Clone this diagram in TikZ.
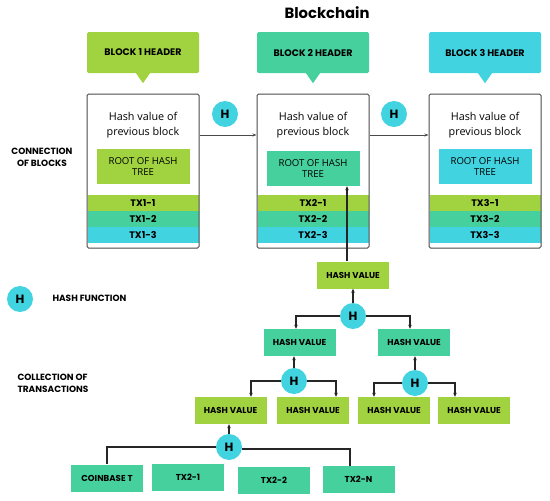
\documentclass[tikz,border=0pt]{standalone}
\usepackage{fontspec}
\setmainfont{Open Sans}
\newfontfamily\pop{Poppins}
\usetikzlibrary{arrows.meta,calc}
\definecolor{lime}{HTML}{A0D33F}
\definecolor{teal}{HTML}{45D09E}
\definecolor{cyanb}{HTML}{42D3E0}
\definecolor{edge}{HTML}{4A4A4A}
\begin{document}
\begin{tikzpicture}[x=1pt,y=-1pt,
  lbl/.style={font=\pop\bfseries\fontsize{9.5}{10}\selectfont, text=black},
  header/.style={lbl, minimum width=112pt, minimum height=41pt, rounded corners=1.5pt, inner sep=0pt},
  block/.style={draw=edge, line width=1pt, rounded corners=1.5pt, minimum width=112pt, minimum height=154pt, inner sep=0pt},
  root/.style={font=\fontsize{9.6}{11.5}\selectfont, align=center, minimum width=93pt, minimum height=35pt, inner sep=0pt},
  prev/.style={font=\fontsize{10.8}{15.5}\selectfont, align=center},
  band/.style={lbl, minimum width=111pt, minimum height=16pt, inner sep=0pt},
  hv/.style={font=\pop\bfseries\fontsize{8.6}{9}\selectfont, minimum width=72pt, minimum height=27pt, inner sep=0pt},
  hfun/.style={circle, fill=cyanb, minimum size=26pt, inner sep=0pt, font=\pop\bfseries\fontsize{12}{12}\selectfont},
  side/.style={font=\pop\bfseries\fontsize{9}{11.5}\selectfont},
  conn/.style={draw=black!85, line width=1.2pt},
  arr/.style={conn, -{Stealth[length=4pt,width=3.5pt]}},
  barr/.style={draw=edge, line width=0.8pt, -{Stealth[length=4pt,width=3pt]}}
]
\useasboundingbox (0,0) rectangle (550,501);

% title
\node[font=\pop\bfseries\fontsize{14.8}{16}\selectfont] (title) at (327,13) {Blockchain};

% headers
\node[header, fill=lime] (h1) at (143,52.5) {BLOCK 1 HEADER};
\node[header, fill=teal] (h2) at (313,52.5) {BLOCK 2 HEADER};
\node[header, fill=cyanb] (h3) at (485,52.5) {BLOCK 3 HEADER};
\fill[lime] ([xshift=-7pt]h1.south) -- ([xshift=7pt]h1.south) -- ([yshift=-10pt]h1.south) -- cycle;
\fill[teal] ([xshift=-7pt]h2.south) -- ([xshift=7pt]h2.south) -- ([yshift=-10pt]h2.south) -- cycle;
\fill[cyanb] ([xshift=-7pt]h3.south) -- ([xshift=7pt]h3.south) -- ([yshift=-10pt]h3.south) -- cycle;

% blocks
\foreach \n/\cx/\ry/\rc in {1/143/166.5/lime, 2/313/168.5/teal, 3/485/166.5/cyanb}{
  \node[band, fill=lime] (t\n a) at (\cx,203) {TX\n-1};
  \node[band, fill=teal] (t\n b) at (\cx,219) {TX\n-2};
  \node[band, fill=cyanb] (t\n c) at (\cx,235) {TX\n-3};
  \node[block] (b\n) at (\cx,171) {};
  \node[prev] (p\n) at (\cx,125) {Hash value of\\previous block};
  \node[root, fill=\rc] (r\n) at (\cx,\ry) {ROOT OF HASH\\TREE};
}

% chain arrows
\draw[barr] ([yshift=36pt]b1.east) -- ([yshift=36pt]b2.west);
\draw[barr] ([yshift=36pt]b2.east) -- ([yshift=36pt]b3.west);
\node[hfun] (hc1) at (225,114) {H};
\node[hfun] (hc2) at (394,114) {H};

% side labels
\node[side, align=center] (lconn) at (42,157.5) {CONNECTION\\OF BLOCKS};
\node[hfun] (hleg) at (20,299) {H};
\node[side, anchor=west] (lhf) at (49,298.5) {HASH FUNCTION};
\node[side, align=left, anchor=west] (lcol) at (14,383.5) {COLLECTION OF\\TRANSACTIONS};

% merkle tree
\node[hv, fill=lime] (hvtop) at (353,275) {HASH VALUE};
\node[hv, fill=teal] (hvml) at (299.5,342.5) {HASH VALUE};
\node[hv, fill=teal] (hvmr) at (414,342.5) {HASH VALUE};
\node[hv, fill=lime] (hvb1) at (230.5,410.5) {HASH VALUE};
\node[hv, fill=lime] (hvb2) at (313,410.5) {HASH VALUE};
\node[hv, fill=lime] (hvb3) at (394,410.5) {HASH VALUE};
\node[hv, fill=lime] (hvb4) at (474,410.5) {HASH VALUE};
\node[hv, fill=teal] (tc) at (107,478) {COINBASE T};
\node[hv, fill=teal] (tx1) at (188,477.5) {TX2-1};
\node[hv, fill=teal] (tx2) at (274,480) {TX2-2};
\node[hv, fill=teal] (txn) at (358.5,479.5) {TX2-N};

\node[hfun] (ht) at (353,316) {H};
\node[hfun] (hml) at (294,381) {H};
\node[hfun] (hmr) at (415,383) {H};
\node[hfun] (hb) at (229,447) {H};

\draw[arr] ([xshift=-6pt]hvtop.north) -- ([xshift=-6pt]hvtop.north |- r2.south);
\draw[arr] (ht) -- (hvtop);
\draw[arr] (ht.west) -| ([xshift=-3.5pt]hvml.north);
\draw[arr] (ht.east) -| ([xshift=-4pt]hvmr.north);
\draw[arr] (hml) -- (hml |- hvml.south);
\draw[arr] (hml.west) -| ([xshift=20.5pt]hvb1.north);
\draw[arr] (hml.east) -| ([xshift=23pt]hvb2.north);
\draw[arr] (hmr) -- (hmr |- hvmr.south);
\draw[arr] (hmr.west) -| ([xshift=-20pt]hvb3.north);
\draw[arr] (hmr.east) -| ([xshift=-19pt]hvb4.north);
\draw[arr] (hb) -- (hb |- hvb1.south);
\draw[conn] (hb.west) -| (tc.north);
\draw[conn] ([yshift=-2pt]hb.east) -| ([xshift=-8.5pt]txn.north);
\end{tikzpicture}
\end{document}
